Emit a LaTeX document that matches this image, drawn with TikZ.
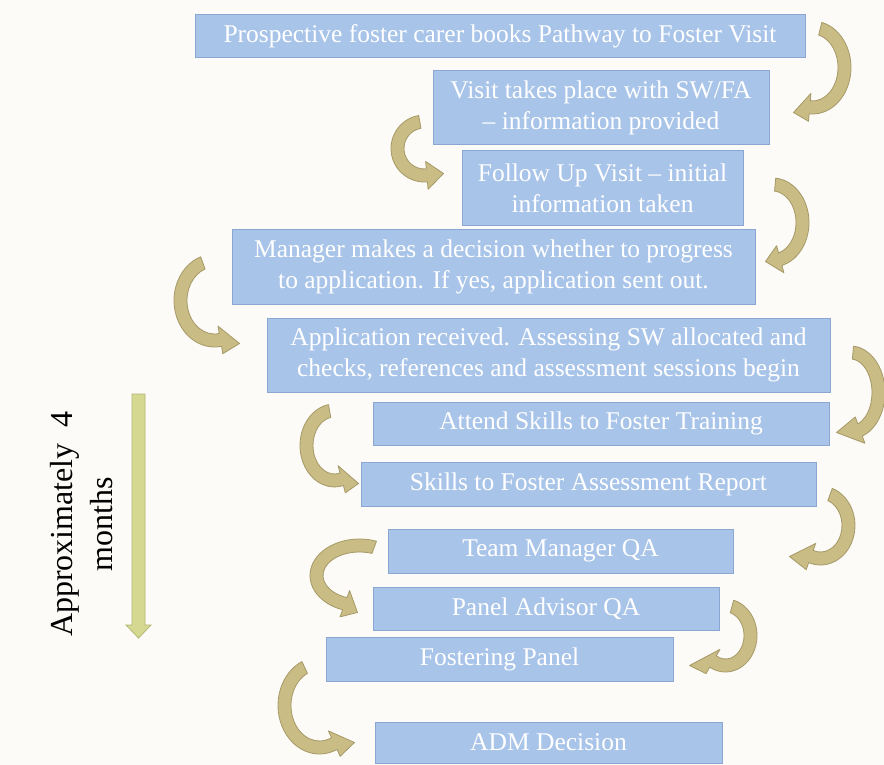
\documentclass[tikz,border=0pt]{standalone}
\usepackage{fontspec}
\setmainfont{Liberation Serif}
\usepackage{tikz}
\usetikzlibrary{calc}

\definecolor{bgcream}{HTML}{FDFBF7}
\definecolor{boxblue}{HTML}{A9C4E9}
\definecolor{boxline}{HTML}{8BA6D3}
\definecolor{arrtan}{HTML}{C9BC84}
\definecolor{arrline}{HTML}{A69968}
\definecolor{timefill}{HTML}{D5D891}
\definecolor{timeline}{HTML}{B3B773}

\newcommand{\shw}{6.5}
\newcommand{\hdw}{14}
% curved block arrow: centre, x radius, y radius, start, end, tip offset
\newcommand{\bendarrow}[6]{%
  \path[barr] ($(#1)+({#4}:{#2+\shw} and {#3+\shw})$)
    arc[start angle=#4, end angle=#5, x radius=#2+\shw, y radius=#3+\shw]
    -- ($(#1)+({#5}:{#2+\hdw} and {#3+\hdw})$)
    -- ($(#1)+(#6)$)
    -- ($(#1)+({#5}:{#2-\hdw} and {#3-\hdw})$)
    -- ($(#1)+({#5}:{#2-\shw} and {#3-\shw})$)
    arc[start angle=#5, end angle=#4, x radius=#2-\shw, y radius=#3-\shw]
    -- cycle;}

\begin{document}
\begin{tikzpicture}[
    x=1pt, y=1pt,
    box/.style={draw=boxline, fill=boxblue, line width=1pt, text=white, align=center,
      inner sep=0pt, font=\fontsize{25.5}{31}\selectfont},
    barr/.style={fill=arrtan, draw=arrline, line width=0.8pt, line join=round},
    timearr/.style={fill=timefill, draw=timeline, line width=0.8pt}
]
\fill[bgcream] (0,0) rectangle (884,-765);
\useasboundingbox (0,0) rectangle (884,-765);

\node[box, minimum width=610pt, minimum height=43pt] (book) at (500,-36.5)
  {Prospective foster carer books Pathway to Foster Visit};
\node[box, minimum width=336pt, minimum height=74pt] (visit) at (601,-108)
  {Visit takes place with SW/FA\\– information provided};
\node[box, minimum width=281pt, minimum height=74pt] (follow) at (602.5,-188)
  {Follow Up Visit – initial\\information taken};
\node[box, minimum width=523pt, minimum height=75pt] (decide) at (493.5,-266.5)
  {Manager makes a decision whether to progress\\to application. If yes, application sent out.};
\node[box, minimum width=563pt, minimum height=74pt] (apply) at (548.5,-355)
  {Application received. Assessing SW allocated and\\checks, references and assessment sessions begin};
\node[box, minimum width=456pt, minimum height=43pt] (train) at (601,-423.5)
  {Attend Skills to Foster Training};
\node[box, minimum width=455pt, minimum height=44pt] (report) at (588.5,-484)
  {Skills to Foster Assessment Report};
\node[box, minimum width=345pt, minimum height=44pt] (tmqa) at (560.5,-551)
  {Team Manager QA};
\node[box, minimum width=346pt, minimum height=43pt] (paqa) at (546,-608.5)
  {Panel Advisor QA};
\node[box, minimum width=347pt, minimum height=44pt] (panel) at (499.5,-659)
  {Fostering Panel};
\node[box, minimum width=347pt, minimum height=41pt] (adm) at (548.5,-742.5)
  {ADM Decision};

% curved arrows between the steps
\coordinate (c1) at ([shift={(7,-9)}]book.south east);
\coordinate (c2) at ([shift={(-8,-3)}]visit.south west);
\coordinate (c3) at ([shift={(29,3)}]follow.south east);
\coordinate (c4) at ([shift={(-17,4)}]decide.south west);
\coordinate (c5) at ([shift={(20,0)}]apply.south east);
\coordinate (c6) at ([shift={(-38,0)}]train.south west);
\coordinate (c7) at ([shift={(4,-19)}]report.south east);
\coordinate (c8) at ([shift={(-28,-2)}]tmqa.south west);
\coordinate (c9) at ([shift={(6,-5)}]paqa.south east);
\coordinate (c10) at ([shift={(-6,-24)}]panel.south west);

\bendarrow{c1}{32}{40}{76}{-95}{-19,-45}
\bendarrow{c2}{27}{27}{100}{275}{19,-25}
\bendarrow{c3}{30}{38}{85}{-75}{-7,-39}
\bendarrow{c4}{34}{40}{110}{280}{25,-43}
\bendarrow{c5}{28}{40}{85}{-70}{-14,-40}
\bendarrow{c6}{28}{35}{100}{285}{24,-38}
\bendarrow{c7}{28}{33}{70}{-110}{-31,-31}
\bendarrow{c8}{43}{30}{70}{250}{-2,-37}
\bendarrow{c9}{25}{30}{75}{-120}{-36,-30}
\bendarrow{c10}{35}{42}{115}{295}{35,-37}

% time line on the left
\path[timearr] (132,-394) -- (145,-394) -- (145,-625) -- (151,-625)
  -- (138.5,-638) -- (126,-625) -- (132,-625) -- cycle;
\node[rotate=90, align=center, font=\fontsize{32}{40}\selectfont] (months) at (82,-524)
  {Approximately\ \ 4\\months};
\end{tikzpicture}
\end{document}
